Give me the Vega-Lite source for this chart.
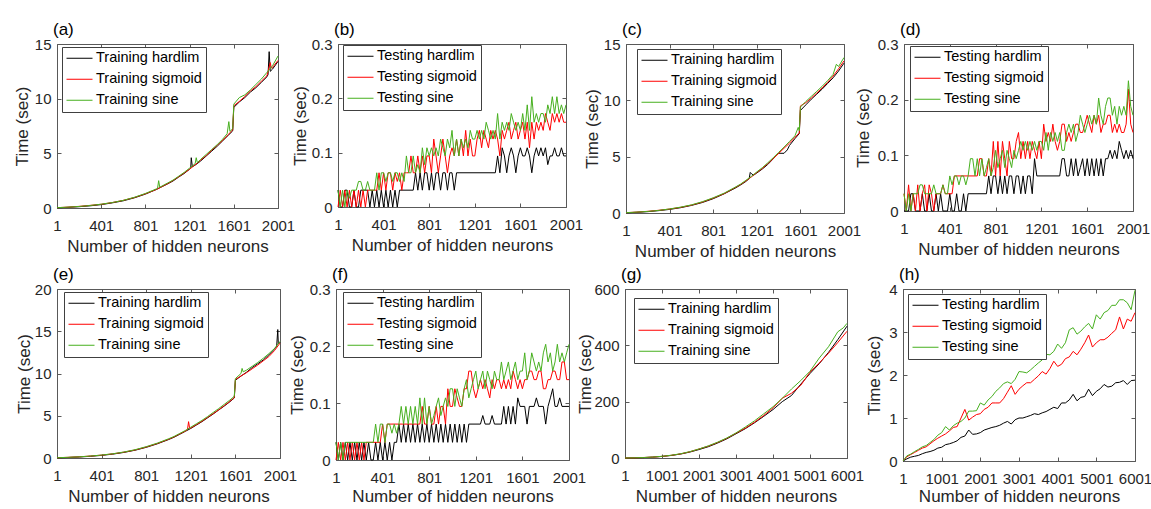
{
"$schema":"https://vega.github.io/schema/vega-lite/v6.json",
"background":"white",
"padding":{"left":12,"top":20,"right":0,"bottom":0},
"datasets":{
"ah":[{"x":1,"y":0.02},{"x":101,"y":0.06},{"x":201,"y":0.12},{"x":301,"y":0.2},{"x":401,"y":0.31},{"x":501,"y":0.47},{"x":601,"y":0.66},{"x":701,"y":0.93},{"x":801,"y":1.27},{"x":901,"y":1.7},{"x":1001,"y":2.2},{"x":1051,"y":2.47},{"x":1101,"y":2.82},{"x":1151,"y":3.15},{"x":1201,"y":3.55},{"x":1211,"y":3.65},{"x":1216,"y":4.6},{"x":1226,"y":3.78},{"x":1251,"y":3.92},{"x":1301,"y":4.3},{"x":1351,"y":4.75},{"x":1401,"y":5.2},{"x":1451,"y":5.65},{"x":1501,"y":6.15},{"x":1551,"y":6.65},{"x":1591,"y":7.05},{"x":1601,"y":9.2},{"x":1651,"y":9.7},{"x":1701,"y":10.1},{"x":1751,"y":10.6},{"x":1801,"y":11.0},{"x":1851,"y":11.5},{"x":1901,"y":12.0},{"x":1911,"y":12.2},{"x":1921,"y":14.3},{"x":1931,"y":12.5},{"x":1951,"y":12.7},{"x":2001,"y":13.4}],
"ag":[{"x":1,"y":0.03},{"x":101,"y":0.08},{"x":201,"y":0.15},{"x":301,"y":0.24},{"x":401,"y":0.34},{"x":501,"y":0.5},{"x":601,"y":0.7},{"x":701,"y":0.96},{"x":801,"y":1.3},{"x":901,"y":1.7},{"x":1001,"y":2.22},{"x":1051,"y":2.52},{"x":1101,"y":2.85},{"x":1151,"y":3.2},{"x":1201,"y":3.55},{"x":1251,"y":3.95},{"x":1301,"y":4.38},{"x":1351,"y":4.8},{"x":1401,"y":5.28},{"x":1451,"y":5.75},{"x":1501,"y":6.2},{"x":1551,"y":6.72},{"x":1591,"y":7.15},{"x":1601,"y":9.35},{"x":1651,"y":9.75},{"x":1701,"y":10.2},{"x":1751,"y":10.7},{"x":1801,"y":11.1},{"x":1851,"y":11.6},{"x":1901,"y":12.1},{"x":1931,"y":13.3},{"x":1941,"y":12.8},{"x":1951,"y":12.85},{"x":2001,"y":13.5}],
"an":[{"x":1,"y":0.03},{"x":101,"y":0.08},{"x":201,"y":0.14},{"x":301,"y":0.23},{"x":401,"y":0.35},{"x":501,"y":0.5},{"x":601,"y":0.7},{"x":701,"y":0.98},{"x":801,"y":1.33},{"x":901,"y":1.75},{"x":911,"y":1.8},{"x":921,"y":2.5},{"x":931,"y":1.9},{"x":1001,"y":2.28},{"x":1051,"y":2.55},{"x":1101,"y":2.9},{"x":1151,"y":3.25},{"x":1201,"y":3.65},{"x":1251,"y":4.05},{"x":1261,"y":4.6},{"x":1271,"y":4.15},{"x":1301,"y":4.45},{"x":1351,"y":4.9},{"x":1401,"y":5.35},{"x":1451,"y":5.8},{"x":1501,"y":6.3},{"x":1541,"y":6.8},{"x":1556,"y":7.9},{"x":1566,"y":7.0},{"x":1591,"y":7.25},{"x":1601,"y":9.5},{"x":1651,"y":10.1},{"x":1701,"y":10.35},{"x":1751,"y":10.8},{"x":1801,"y":11.3},{"x":1851,"y":11.8},{"x":1901,"y":12.4},{"x":1951,"y":13.0},{"x":2001,"y":13.9}],
"bh":[{"x":1,"y":0.031},{"x":21,"y":0},{"x":41,"y":0},{"x":61,"y":0.031},{"x":81,"y":0.031},{"x":101,"y":0},{"x":121,"y":0},{"x":141,"y":0.031},{"x":161,"y":0},{"x":181,"y":0},{"x":201,"y":0.031},{"x":261,"y":0.031},{"x":281,"y":0},{"x":301,"y":0.031},{"x":321,"y":0},{"x":341,"y":0.031},{"x":361,"y":0},{"x":381,"y":0.031},{"x":401,"y":0},{"x":421,"y":0.031},{"x":441,"y":0},{"x":461,"y":0.031},{"x":481,"y":0},{"x":501,"y":0.031},{"x":521,"y":0},{"x":541,"y":0.031},{"x":661,"y":0.031},{"x":681,"y":0.063},{"x":701,"y":0.031},{"x":721,"y":0.063},{"x":741,"y":0.031},{"x":761,"y":0.063},{"x":781,"y":0.063},{"x":801,"y":0.031},{"x":821,"y":0.063},{"x":841,"y":0.031},{"x":861,"y":0.063},{"x":881,"y":0.063},{"x":901,"y":0.031},{"x":921,"y":0.063},{"x":941,"y":0.063},{"x":961,"y":0.031},{"x":981,"y":0.063},{"x":1001,"y":0.063},{"x":1021,"y":0.031},{"x":1041,"y":0.063},{"x":1381,"y":0.063},{"x":1401,"y":0.094},{"x":1421,"y":0.063},{"x":1441,"y":0.109},{"x":1461,"y":0.094},{"x":1481,"y":0.063},{"x":1501,"y":0.094},{"x":1521,"y":0.109},{"x":1541,"y":0.094},{"x":1561,"y":0.063},{"x":1581,"y":0.094},{"x":1601,"y":0.109},{"x":1621,"y":0.094},{"x":1641,"y":0.094},{"x":1661,"y":0.109},{"x":1681,"y":0.094},{"x":1701,"y":0.063},{"x":1721,"y":0.094},{"x":1741,"y":0.109},{"x":1761,"y":0.094},{"x":1781,"y":0.109},{"x":1801,"y":0.094},{"x":1821,"y":0.109},{"x":1841,"y":0.078},{"x":1861,"y":0.094},{"x":1881,"y":0.094},{"x":1901,"y":0.109},{"x":1921,"y":0.094},{"x":1941,"y":0.094},{"x":1961,"y":0.109},{"x":1981,"y":0.094},{"x":2001,"y":0.094}],
"bg":[{"x":1,"y":0},{"x":21,"y":0.031},{"x":41,"y":0},{"x":61,"y":0.031},{"x":81,"y":0},{"x":101,"y":0.031},{"x":121,"y":0},{"x":141,"y":0.031},{"x":161,"y":0},{"x":181,"y":0.031},{"x":201,"y":0},{"x":221,"y":0.031},{"x":241,"y":0},{"x":261,"y":0.031},{"x":341,"y":0.031},{"x":361,"y":0.063},{"x":381,"y":0.031},{"x":401,"y":0.063},{"x":421,"y":0.031},{"x":441,"y":0.063},{"x":461,"y":0.063},{"x":481,"y":0.031},{"x":501,"y":0.063},{"x":521,"y":0.047},{"x":541,"y":0.063},{"x":561,"y":0.031},{"x":581,"y":0.063},{"x":601,"y":0.063},{"x":621,"y":0.063},{"x":641,"y":0.094},{"x":661,"y":0.063},{"x":681,"y":0.063},{"x":701,"y":0.094},{"x":721,"y":0.063},{"x":741,"y":0.094},{"x":761,"y":0.063},{"x":781,"y":0.094},{"x":801,"y":0.094},{"x":821,"y":0.063},{"x":841,"y":0.125},{"x":861,"y":0.094},{"x":881,"y":0.063},{"x":901,"y":0.094},{"x":921,"y":0.125},{"x":941,"y":0.094},{"x":961,"y":0.063},{"x":981,"y":0.094},{"x":1001,"y":0.109},{"x":1021,"y":0.094},{"x":1041,"y":0.125},{"x":1061,"y":0.094},{"x":1081,"y":0.125},{"x":1101,"y":0.094},{"x":1121,"y":0.141},{"x":1141,"y":0.094},{"x":1161,"y":0.125},{"x":1181,"y":0.094},{"x":1201,"y":0.094},{"x":1221,"y":0.125},{"x":1241,"y":0.141},{"x":1261,"y":0.109},{"x":1281,"y":0.141},{"x":1301,"y":0.125},{"x":1321,"y":0.109},{"x":1341,"y":0.141},{"x":1361,"y":0.125},{"x":1381,"y":0.141},{"x":1401,"y":0.125},{"x":1421,"y":0.094},{"x":1441,"y":0.141},{"x":1461,"y":0.125},{"x":1481,"y":0.141},{"x":1501,"y":0.156},{"x":1521,"y":0.125},{"x":1541,"y":0.141},{"x":1561,"y":0.156},{"x":1581,"y":0.125},{"x":1601,"y":0.141},{"x":1621,"y":0.156},{"x":1641,"y":0.125},{"x":1661,"y":0.156},{"x":1681,"y":0.109},{"x":1701,"y":0.156},{"x":1721,"y":0.125},{"x":1741,"y":0.156},{"x":1761,"y":0.141},{"x":1781,"y":0.156},{"x":1801,"y":0.141},{"x":1821,"y":0.172},{"x":1841,"y":0.156},{"x":1861,"y":0.141},{"x":1881,"y":0.172},{"x":1901,"y":0.156},{"x":1921,"y":0.172},{"x":1941,"y":0.156},{"x":1961,"y":0.172},{"x":1981,"y":0.156},{"x":2001,"y":0.156}],
"bn":[{"x":1,"y":0.031},{"x":21,"y":0},{"x":41,"y":0.031},{"x":61,"y":0},{"x":81,"y":0.031},{"x":101,"y":0.016},{"x":121,"y":0.031},{"x":161,"y":0.031},{"x":181,"y":0.047},{"x":201,"y":0.047},{"x":221,"y":0.031},{"x":241,"y":0.031},{"x":261,"y":0.047},{"x":281,"y":0.031},{"x":321,"y":0.031},{"x":341,"y":0.063},{"x":361,"y":0.031},{"x":381,"y":0.063},{"x":401,"y":0.063},{"x":421,"y":0.047},{"x":441,"y":0.063},{"x":461,"y":0.063},{"x":481,"y":0.047},{"x":501,"y":0.063},{"x":521,"y":0.063},{"x":541,"y":0.047},{"x":561,"y":0.063},{"x":581,"y":0.047},{"x":601,"y":0.094},{"x":621,"y":0.063},{"x":641,"y":0.063},{"x":661,"y":0.094},{"x":681,"y":0.063},{"x":701,"y":0.078},{"x":721,"y":0.063},{"x":741,"y":0.109},{"x":761,"y":0.078},{"x":781,"y":0.109},{"x":801,"y":0.094},{"x":821,"y":0.109},{"x":841,"y":0.094},{"x":861,"y":0.109},{"x":881,"y":0.094},{"x":901,"y":0.125},{"x":921,"y":0.109},{"x":941,"y":0.094},{"x":961,"y":0.125},{"x":981,"y":0.109},{"x":1001,"y":0.141},{"x":1021,"y":0.094},{"x":1041,"y":0.125},{"x":1061,"y":0.094},{"x":1081,"y":0.125},{"x":1101,"y":0.109},{"x":1121,"y":0.125},{"x":1141,"y":0.109},{"x":1161,"y":0.141},{"x":1181,"y":0.125},{"x":1201,"y":0.125},{"x":1221,"y":0.141},{"x":1241,"y":0.125},{"x":1261,"y":0.141},{"x":1281,"y":0.125},{"x":1301,"y":0.156},{"x":1321,"y":0.141},{"x":1341,"y":0.125},{"x":1361,"y":0.141},{"x":1381,"y":0.125},{"x":1401,"y":0.172},{"x":1421,"y":0.125},{"x":1441,"y":0.156},{"x":1461,"y":0.141},{"x":1481,"y":0.156},{"x":1501,"y":0.141},{"x":1521,"y":0.172},{"x":1541,"y":0.156},{"x":1561,"y":0.141},{"x":1581,"y":0.156},{"x":1601,"y":0.141},{"x":1621,"y":0.172},{"x":1641,"y":0.141},{"x":1661,"y":0.188},{"x":1681,"y":0.141},{"x":1701,"y":0.203},{"x":1721,"y":0.156},{"x":1741,"y":0.172},{"x":1761,"y":0.156},{"x":1781,"y":0.172},{"x":1801,"y":0.172},{"x":1821,"y":0.156},{"x":1841,"y":0.188},{"x":1861,"y":0.172},{"x":1881,"y":0.203},{"x":1901,"y":0.172},{"x":1921,"y":0.203},{"x":1941,"y":0.172},{"x":1961,"y":0.188},{"x":1981,"y":0.172},{"x":2001,"y":0.188}],
"ch":[{"x":1,"y":0.02},{"x":101,"y":0.06},{"x":201,"y":0.12},{"x":301,"y":0.21},{"x":401,"y":0.32},{"x":501,"y":0.47},{"x":601,"y":0.67},{"x":701,"y":0.93},{"x":801,"y":1.27},{"x":901,"y":1.7},{"x":1001,"y":2.2},{"x":1051,"y":2.48},{"x":1101,"y":2.8},{"x":1131,"y":3.05},{"x":1141,"y":3.6},{"x":1151,"y":3.5},{"x":1171,"y":3.35},{"x":1201,"y":3.55},{"x":1251,"y":3.9},{"x":1301,"y":4.3},{"x":1351,"y":4.8},{"x":1401,"y":5.3},{"x":1451,"y":5.3},{"x":1481,"y":5.6},{"x":1501,"y":6.0},{"x":1551,"y":6.6},{"x":1591,"y":7.05},{"x":1601,"y":9.1},{"x":1651,"y":9.6},{"x":1701,"y":10.1},{"x":1751,"y":10.55},{"x":1801,"y":11.0},{"x":1851,"y":11.5},{"x":1901,"y":12.0},{"x":1951,"y":12.6},{"x":2001,"y":13.3}],
"cg":[{"x":1,"y":0.03},{"x":101,"y":0.08},{"x":201,"y":0.15},{"x":301,"y":0.24},{"x":401,"y":0.35},{"x":501,"y":0.5},{"x":601,"y":0.7},{"x":701,"y":0.97},{"x":801,"y":1.32},{"x":901,"y":1.72},{"x":1001,"y":2.25},{"x":1051,"y":2.52},{"x":1101,"y":2.85},{"x":1151,"y":3.2},{"x":1201,"y":3.6},{"x":1251,"y":3.95},{"x":1301,"y":4.38},{"x":1351,"y":4.82},{"x":1401,"y":5.28},{"x":1451,"y":5.75},{"x":1501,"y":6.2},{"x":1551,"y":6.72},{"x":1591,"y":7.1},{"x":1601,"y":9.5},{"x":1651,"y":9.8},{"x":1701,"y":10.2},{"x":1751,"y":10.65},{"x":1801,"y":11.1},{"x":1851,"y":11.6},{"x":1901,"y":12.15},{"x":1951,"y":12.8},{"x":2001,"y":13.5}],
"cn":[{"x":1,"y":0.03},{"x":101,"y":0.08},{"x":201,"y":0.14},{"x":301,"y":0.23},{"x":401,"y":0.36},{"x":501,"y":0.52},{"x":601,"y":0.72},{"x":701,"y":1.0},{"x":801,"y":1.35},{"x":901,"y":1.76},{"x":1001,"y":2.28},{"x":1051,"y":2.56},{"x":1101,"y":2.9},{"x":1151,"y":3.25},{"x":1201,"y":3.65},{"x":1251,"y":4.02},{"x":1301,"y":4.45},{"x":1351,"y":4.9},{"x":1401,"y":5.38},{"x":1451,"y":5.85},{"x":1501,"y":6.35},{"x":1551,"y":6.85},{"x":1581,"y":7.6},{"x":1591,"y":7.3},{"x":1601,"y":9.4},{"x":1651,"y":9.9},{"x":1701,"y":10.35},{"x":1751,"y":10.8},{"x":1801,"y":11.25},{"x":1851,"y":11.75},{"x":1901,"y":12.3},{"x":1931,"y":13.2},{"x":1951,"y":13.0},{"x":2001,"y":13.8}],
"dh":[{"x":1,"y":0},{"x":41,"y":0},{"x":61,"y":0.031},{"x":81,"y":0.031},{"x":101,"y":0},{"x":141,"y":0},{"x":161,"y":0.031},{"x":181,"y":0},{"x":201,"y":0},{"x":221,"y":0.031},{"x":241,"y":0},{"x":261,"y":0},{"x":281,"y":0.031},{"x":301,"y":0},{"x":321,"y":0.031},{"x":341,"y":0},{"x":381,"y":0},{"x":401,"y":0.031},{"x":421,"y":0},{"x":441,"y":0},{"x":461,"y":0.031},{"x":481,"y":0},{"x":501,"y":0},{"x":521,"y":0.031},{"x":541,"y":0},{"x":561,"y":0.031},{"x":721,"y":0.031},{"x":741,"y":0.063},{"x":761,"y":0.031},{"x":781,"y":0.063},{"x":801,"y":0.063},{"x":821,"y":0.031},{"x":841,"y":0.063},{"x":861,"y":0.031},{"x":881,"y":0.063},{"x":901,"y":0.031},{"x":921,"y":0.063},{"x":941,"y":0.063},{"x":961,"y":0.031},{"x":981,"y":0.063},{"x":1001,"y":0.063},{"x":1021,"y":0.031},{"x":1041,"y":0.063},{"x":1061,"y":0.031},{"x":1081,"y":0.063},{"x":1101,"y":0.063},{"x":1121,"y":0.031},{"x":1141,"y":0.094},{"x":1161,"y":0.063},{"x":1361,"y":0.063},{"x":1381,"y":0.094},{"x":1401,"y":0.094},{"x":1421,"y":0.063},{"x":1441,"y":0.063},{"x":1461,"y":0.094},{"x":1481,"y":0.063},{"x":1501,"y":0.094},{"x":1521,"y":0.063},{"x":1541,"y":0.078},{"x":1561,"y":0.094},{"x":1581,"y":0.063},{"x":1601,"y":0.094},{"x":1621,"y":0.063},{"x":1641,"y":0.094},{"x":1661,"y":0.063},{"x":1681,"y":0.094},{"x":1701,"y":0.063},{"x":1721,"y":0.094},{"x":1741,"y":0.063},{"x":1761,"y":0.094},{"x":1781,"y":0.094},{"x":1801,"y":0.109},{"x":1821,"y":0.094},{"x":1841,"y":0.109},{"x":1861,"y":0.094},{"x":1881,"y":0.125},{"x":1901,"y":0.109},{"x":1921,"y":0.094},{"x":1941,"y":0.109},{"x":1961,"y":0.094},{"x":1981,"y":0.109},{"x":2001,"y":0.094}],
"dg":[{"x":1,"y":0.031},{"x":21,"y":0},{"x":41,"y":0.047},{"x":61,"y":0},{"x":81,"y":0.031},{"x":101,"y":0},{"x":121,"y":0.047},{"x":141,"y":0},{"x":161,"y":0.031},{"x":181,"y":0.047},{"x":201,"y":0},{"x":221,"y":0.047},{"x":241,"y":0.031},{"x":261,"y":0},{"x":281,"y":0.031},{"x":321,"y":0.031},{"x":341,"y":0.047},{"x":361,"y":0.031},{"x":421,"y":0.031},{"x":441,"y":0.063},{"x":641,"y":0.063},{"x":661,"y":0.094},{"x":681,"y":0.094},{"x":701,"y":0.063},{"x":721,"y":0.063},{"x":741,"y":0.094},{"x":761,"y":0.063},{"x":781,"y":0.125},{"x":801,"y":0.063},{"x":821,"y":0.125},{"x":841,"y":0.063},{"x":861,"y":0.125},{"x":881,"y":0.094},{"x":901,"y":0.063},{"x":921,"y":0.125},{"x":941,"y":0.094},{"x":961,"y":0.094},{"x":981,"y":0.125},{"x":1001,"y":0.141},{"x":1021,"y":0.094},{"x":1041,"y":0.125},{"x":1061,"y":0.094},{"x":1081,"y":0.125},{"x":1101,"y":0.094},{"x":1121,"y":0.125},{"x":1141,"y":0.109},{"x":1161,"y":0.094},{"x":1181,"y":0.125},{"x":1201,"y":0.094},{"x":1221,"y":0.156},{"x":1241,"y":0.125},{"x":1261,"y":0.141},{"x":1281,"y":0.125},{"x":1301,"y":0.156},{"x":1321,"y":0.125},{"x":1341,"y":0.109},{"x":1361,"y":0.125},{"x":1381,"y":0.156},{"x":1401,"y":0.156},{"x":1421,"y":0.125},{"x":1441,"y":0.141},{"x":1461,"y":0.125},{"x":1481,"y":0.141},{"x":1501,"y":0.156},{"x":1521,"y":0.156},{"x":1541,"y":0.141},{"x":1561,"y":0.141},{"x":1581,"y":0.156},{"x":1601,"y":0.172},{"x":1621,"y":0.156},{"x":1641,"y":0.141},{"x":1661,"y":0.172},{"x":1681,"y":0.156},{"x":1701,"y":0.172},{"x":1721,"y":0.141},{"x":1741,"y":0.156},{"x":1761,"y":0.156},{"x":1781,"y":0.172},{"x":1801,"y":0.172},{"x":1821,"y":0.141},{"x":1841,"y":0.156},{"x":1861,"y":0.141},{"x":1881,"y":0.156},{"x":1901,"y":0.141},{"x":1921,"y":0.141},{"x":1941,"y":0.156},{"x":1961,"y":0.219},{"x":1981,"y":0.156},{"x":2001,"y":0.141}],
"dn":[{"x":1,"y":0.031},{"x":21,"y":0},{"x":41,"y":0.031},{"x":61,"y":0},{"x":81,"y":0.031},{"x":121,"y":0.031},{"x":141,"y":0.047},{"x":161,"y":0.047},{"x":181,"y":0.031},{"x":241,"y":0.031},{"x":261,"y":0.047},{"x":281,"y":0.031},{"x":321,"y":0.031},{"x":341,"y":0.047},{"x":361,"y":0.031},{"x":381,"y":0.031},{"x":401,"y":0.063},{"x":421,"y":0.047},{"x":441,"y":0.063},{"x":461,"y":0.063},{"x":481,"y":0.047},{"x":501,"y":0.063},{"x":521,"y":0.063},{"x":541,"y":0.047},{"x":561,"y":0.063},{"x":581,"y":0.094},{"x":601,"y":0.094},{"x":621,"y":0.063},{"x":641,"y":0.094},{"x":661,"y":0.063},{"x":681,"y":0.094},{"x":701,"y":0.063},{"x":721,"y":0.078},{"x":741,"y":0.094},{"x":761,"y":0.063},{"x":781,"y":0.078},{"x":801,"y":0.109},{"x":821,"y":0.078},{"x":841,"y":0.094},{"x":861,"y":0.109},{"x":881,"y":0.078},{"x":901,"y":0.109},{"x":921,"y":0.094},{"x":941,"y":0.078},{"x":961,"y":0.109},{"x":981,"y":0.094},{"x":1001,"y":0.109},{"x":1021,"y":0.125},{"x":1041,"y":0.109},{"x":1061,"y":0.125},{"x":1081,"y":0.109},{"x":1101,"y":0.125},{"x":1121,"y":0.109},{"x":1141,"y":0.125},{"x":1161,"y":0.109},{"x":1181,"y":0.125},{"x":1201,"y":0.125},{"x":1221,"y":0.109},{"x":1241,"y":0.141},{"x":1261,"y":0.109},{"x":1281,"y":0.141},{"x":1301,"y":0.125},{"x":1321,"y":0.141},{"x":1341,"y":0.125},{"x":1361,"y":0.141},{"x":1381,"y":0.109},{"x":1401,"y":0.109},{"x":1421,"y":0.141},{"x":1441,"y":0.156},{"x":1461,"y":0.141},{"x":1481,"y":0.156},{"x":1501,"y":0.125},{"x":1521,"y":0.141},{"x":1541,"y":0.172},{"x":1561,"y":0.156},{"x":1581,"y":0.141},{"x":1601,"y":0.156},{"x":1621,"y":0.172},{"x":1641,"y":0.156},{"x":1661,"y":0.172},{"x":1681,"y":0.156},{"x":1701,"y":0.203},{"x":1721,"y":0.172},{"x":1741,"y":0.156},{"x":1761,"y":0.188},{"x":1781,"y":0.203},{"x":1801,"y":0.203},{"x":1821,"y":0.172},{"x":1841,"y":0.188},{"x":1861,"y":0.156},{"x":1881,"y":0.188},{"x":1901,"y":0.172},{"x":1921,"y":0.188},{"x":1941,"y":0.172},{"x":1961,"y":0.234},{"x":1981,"y":0.188},{"x":2001,"y":0.172}],
"eh":[{"x":1,"y":0.02},{"x":101,"y":0.06},{"x":201,"y":0.12},{"x":301,"y":0.2},{"x":401,"y":0.31},{"x":501,"y":0.46},{"x":601,"y":0.66},{"x":701,"y":0.92},{"x":801,"y":1.26},{"x":901,"y":1.68},{"x":1001,"y":2.18},{"x":1051,"y":2.46},{"x":1101,"y":2.8},{"x":1151,"y":3.15},{"x":1201,"y":3.5},{"x":1251,"y":3.9},{"x":1301,"y":4.3},{"x":1351,"y":4.75},{"x":1401,"y":5.2},{"x":1451,"y":5.68},{"x":1501,"y":6.15},{"x":1551,"y":6.65},{"x":1591,"y":7.1},{"x":1601,"y":9.2},{"x":1651,"y":9.7},{"x":1701,"y":10.15},{"x":1751,"y":10.7},{"x":1801,"y":11.15},{"x":1851,"y":11.6},{"x":1901,"y":12.2},{"x":1951,"y":12.9},{"x":1971,"y":13.2},{"x":1981,"y":15.2},{"x":1986,"y":13.5},{"x":2001,"y":13.7}],
"eg":[{"x":1,"y":0.03},{"x":101,"y":0.08},{"x":201,"y":0.14},{"x":301,"y":0.23},{"x":401,"y":0.34},{"x":501,"y":0.49},{"x":601,"y":0.69},{"x":701,"y":0.95},{"x":801,"y":1.3},{"x":901,"y":1.72},{"x":1001,"y":2.22},{"x":1051,"y":2.5},{"x":1101,"y":2.85},{"x":1151,"y":3.18},{"x":1171,"y":3.35},{"x":1181,"y":4.3},{"x":1191,"y":3.5},{"x":1201,"y":3.55},{"x":1251,"y":3.95},{"x":1301,"y":4.35},{"x":1351,"y":4.8},{"x":1401,"y":5.25},{"x":1451,"y":5.7},{"x":1501,"y":6.2},{"x":1551,"y":6.7},{"x":1591,"y":7.15},{"x":1601,"y":9.3},{"x":1651,"y":9.7},{"x":1701,"y":10.1},{"x":1751,"y":10.55},{"x":1801,"y":11.0},{"x":1851,"y":11.5},{"x":1901,"y":12.0},{"x":1951,"y":12.7},{"x":2001,"y":13.6}],
"en":[{"x":1,"y":0.03},{"x":101,"y":0.08},{"x":201,"y":0.14},{"x":301,"y":0.23},{"x":401,"y":0.35},{"x":501,"y":0.5},{"x":601,"y":0.71},{"x":701,"y":0.98},{"x":801,"y":1.34},{"x":901,"y":1.76},{"x":1001,"y":2.27},{"x":1051,"y":2.55},{"x":1101,"y":2.9},{"x":1151,"y":3.25},{"x":1201,"y":3.65},{"x":1251,"y":4.05},{"x":1301,"y":4.45},{"x":1351,"y":4.9},{"x":1401,"y":5.38},{"x":1451,"y":5.85},{"x":1501,"y":6.35},{"x":1551,"y":6.85},{"x":1591,"y":7.3},{"x":1601,"y":9.4},{"x":1651,"y":10.0},{"x":1661,"y":10.6},{"x":1671,"y":10.2},{"x":1701,"y":10.4},{"x":1751,"y":10.85},{"x":1801,"y":11.3},{"x":1851,"y":11.8},{"x":1901,"y":12.35},{"x":1951,"y":12.95},{"x":2001,"y":13.8}],
"fh":[{"x":1,"y":0.031},{"x":21,"y":0},{"x":41,"y":0.031},{"x":61,"y":0},{"x":81,"y":0.031},{"x":101,"y":0},{"x":121,"y":0.031},{"x":141,"y":0},{"x":161,"y":0.031},{"x":181,"y":0},{"x":201,"y":0.031},{"x":221,"y":0},{"x":241,"y":0.031},{"x":261,"y":0},{"x":281,"y":0.031},{"x":301,"y":0},{"x":321,"y":0},{"x":341,"y":0.031},{"x":361,"y":0},{"x":381,"y":0.031},{"x":401,"y":0},{"x":421,"y":0.031},{"x":441,"y":0},{"x":461,"y":0.031},{"x":481,"y":0},{"x":501,"y":0.031},{"x":521,"y":0.031},{"x":541,"y":0.063},{"x":561,"y":0.031},{"x":581,"y":0.063},{"x":601,"y":0.031},{"x":621,"y":0.063},{"x":641,"y":0.031},{"x":661,"y":0.063},{"x":681,"y":0.031},{"x":701,"y":0.063},{"x":721,"y":0.031},{"x":741,"y":0.063},{"x":761,"y":0.031},{"x":781,"y":0.063},{"x":801,"y":0.031},{"x":821,"y":0.063},{"x":841,"y":0.031},{"x":861,"y":0.063},{"x":881,"y":0.031},{"x":901,"y":0.063},{"x":921,"y":0.031},{"x":941,"y":0.063},{"x":961,"y":0.031},{"x":981,"y":0.063},{"x":1001,"y":0.031},{"x":1021,"y":0.063},{"x":1041,"y":0.031},{"x":1061,"y":0.063},{"x":1081,"y":0.031},{"x":1101,"y":0.063},{"x":1121,"y":0.031},{"x":1141,"y":0.063},{"x":1241,"y":0.063},{"x":1261,"y":0.078},{"x":1281,"y":0.063},{"x":1321,"y":0.063},{"x":1341,"y":0.078},{"x":1361,"y":0.063},{"x":1421,"y":0.063},{"x":1441,"y":0.094},{"x":1461,"y":0.063},{"x":1481,"y":0.094},{"x":1501,"y":0.063},{"x":1521,"y":0.094},{"x":1541,"y":0.063},{"x":1561,"y":0.109},{"x":1581,"y":0.094},{"x":1621,"y":0.094},{"x":1641,"y":0.063},{"x":1661,"y":0.094},{"x":1701,"y":0.094},{"x":1721,"y":0.109},{"x":1741,"y":0.094},{"x":1781,"y":0.094},{"x":1801,"y":0.063},{"x":1821,"y":0.094},{"x":1841,"y":0.109},{"x":1861,"y":0.125},{"x":1881,"y":0.094},{"x":1901,"y":0.094},{"x":1921,"y":0.109},{"x":1941,"y":0.094},{"x":2001,"y":0.094}],
"fg":[{"x":1,"y":0},{"x":21,"y":0.031},{"x":41,"y":0},{"x":61,"y":0.031},{"x":81,"y":0},{"x":101,"y":0.031},{"x":121,"y":0},{"x":141,"y":0.031},{"x":161,"y":0},{"x":181,"y":0.031},{"x":201,"y":0},{"x":221,"y":0.031},{"x":241,"y":0},{"x":261,"y":0.031},{"x":381,"y":0.031},{"x":401,"y":0.063},{"x":421,"y":0.031},{"x":441,"y":0.063},{"x":721,"y":0.063},{"x":741,"y":0.094},{"x":761,"y":0.063},{"x":781,"y":0.063},{"x":801,"y":0.094},{"x":821,"y":0.063},{"x":841,"y":0.063},{"x":861,"y":0.094},{"x":881,"y":0.063},{"x":901,"y":0.094},{"x":921,"y":0.094},{"x":941,"y":0.063},{"x":961,"y":0.125},{"x":981,"y":0.094},{"x":1001,"y":0.094},{"x":1021,"y":0.125},{"x":1041,"y":0.109},{"x":1061,"y":0.094},{"x":1081,"y":0.094},{"x":1101,"y":0.125},{"x":1121,"y":0.125},{"x":1141,"y":0.156},{"x":1161,"y":0.156},{"x":1181,"y":0.125},{"x":1201,"y":0.109},{"x":1221,"y":0.125},{"x":1241,"y":0.141},{"x":1261,"y":0.125},{"x":1281,"y":0.141},{"x":1301,"y":0.125},{"x":1321,"y":0.109},{"x":1341,"y":0.141},{"x":1361,"y":0.125},{"x":1381,"y":0.141},{"x":1401,"y":0.141},{"x":1421,"y":0.125},{"x":1441,"y":0.141},{"x":1461,"y":0.125},{"x":1481,"y":0.141},{"x":1501,"y":0.125},{"x":1521,"y":0.156},{"x":1541,"y":0.141},{"x":1561,"y":0.125},{"x":1581,"y":0.141},{"x":1601,"y":0.125},{"x":1621,"y":0.141},{"x":1641,"y":0.141},{"x":1661,"y":0.156},{"x":1681,"y":0.156},{"x":1701,"y":0.141},{"x":1721,"y":0.141},{"x":1741,"y":0.156},{"x":1761,"y":0.156},{"x":1781,"y":0.125},{"x":1801,"y":0.125},{"x":1821,"y":0.141},{"x":1841,"y":0.141},{"x":1861,"y":0.156},{"x":1881,"y":0.156},{"x":1901,"y":0.141},{"x":1921,"y":0.141},{"x":1941,"y":0.172},{"x":1961,"y":0.172},{"x":1981,"y":0.141},{"x":2001,"y":0.141}],
"fn":[{"x":1,"y":0.031},{"x":21,"y":0},{"x":41,"y":0.031},{"x":61,"y":0},{"x":81,"y":0.031},{"x":321,"y":0.031},{"x":341,"y":0.063},{"x":361,"y":0.031},{"x":381,"y":0.063},{"x":401,"y":0.063},{"x":421,"y":0.031},{"x":441,"y":0.063},{"x":461,"y":0.063},{"x":481,"y":0.047},{"x":501,"y":0.063},{"x":521,"y":0.047},{"x":541,"y":0.063},{"x":561,"y":0.094},{"x":581,"y":0.063},{"x":601,"y":0.094},{"x":621,"y":0.063},{"x":641,"y":0.094},{"x":661,"y":0.063},{"x":681,"y":0.094},{"x":701,"y":0.063},{"x":721,"y":0.109},{"x":741,"y":0.063},{"x":761,"y":0.109},{"x":781,"y":0.063},{"x":801,"y":0.094},{"x":821,"y":0.063},{"x":841,"y":0.078},{"x":861,"y":0.094},{"x":881,"y":0.109},{"x":901,"y":0.078},{"x":921,"y":0.094},{"x":941,"y":0.109},{"x":961,"y":0.094},{"x":981,"y":0.125},{"x":1001,"y":0.125},{"x":1021,"y":0.094},{"x":1041,"y":0.125},{"x":1061,"y":0.109},{"x":1081,"y":0.094},{"x":1101,"y":0.125},{"x":1121,"y":0.141},{"x":1141,"y":0.109},{"x":1161,"y":0.125},{"x":1181,"y":0.141},{"x":1201,"y":0.156},{"x":1221,"y":0.125},{"x":1241,"y":0.141},{"x":1261,"y":0.156},{"x":1281,"y":0.125},{"x":1301,"y":0.156},{"x":1321,"y":0.141},{"x":1341,"y":0.125},{"x":1361,"y":0.156},{"x":1381,"y":0.141},{"x":1401,"y":0.141},{"x":1421,"y":0.172},{"x":1441,"y":0.141},{"x":1461,"y":0.156},{"x":1481,"y":0.172},{"x":1501,"y":0.141},{"x":1521,"y":0.156},{"x":1541,"y":0.172},{"x":1561,"y":0.141},{"x":1581,"y":0.156},{"x":1601,"y":0.156},{"x":1621,"y":0.188},{"x":1641,"y":0.141},{"x":1661,"y":0.156},{"x":1681,"y":0.188},{"x":1701,"y":0.172},{"x":1721,"y":0.156},{"x":1741,"y":0.172},{"x":1761,"y":0.156},{"x":1781,"y":0.188},{"x":1801,"y":0.203},{"x":1821,"y":0.172},{"x":1841,"y":0.188},{"x":1861,"y":0.156},{"x":1881,"y":0.172},{"x":1901,"y":0.203},{"x":1921,"y":0.172},{"x":1941,"y":0.188},{"x":1961,"y":0.172},{"x":1981,"y":0.188},{"x":2001,"y":0.203}],
"gh":[{"x":1,"y":0},{"x":251,"y":0.5},{"x":501,"y":1.5},{"x":751,"y":3},{"x":1001,"y":5.5},{"x":1251,"y":9},{"x":1501,"y":14},{"x":1751,"y":21},{"x":2001,"y":30},{"x":2251,"y":40},{"x":2501,"y":53},{"x":2751,"y":68},{"x":3001,"y":86},{"x":3251,"y":104},{"x":3501,"y":125},{"x":3751,"y":148},{"x":4001,"y":172},{"x":4251,"y":200},{"x":4501,"y":222},{"x":4751,"y":262},{"x":5001,"y":300},{"x":5251,"y":335},{"x":5501,"y":375},{"x":5751,"y":420},{"x":6001,"y":468}],
"gg":[{"x":1,"y":0},{"x":251,"y":0.6},{"x":501,"y":1.7},{"x":751,"y":3.2},{"x":1001,"y":5.8},{"x":1251,"y":9.5},{"x":1501,"y":14.5},{"x":1751,"y":22},{"x":2001,"y":32},{"x":2251,"y":42},{"x":2501,"y":55},{"x":2751,"y":70},{"x":3001,"y":88},{"x":3251,"y":106},{"x":3501,"y":127},{"x":3751,"y":151},{"x":4001,"y":178},{"x":4251,"y":212},{"x":4501,"y":230},{"x":4751,"y":258},{"x":5001,"y":305},{"x":5251,"y":337},{"x":5501,"y":372},{"x":5751,"y":410},{"x":6001,"y":450}],
"gn":[{"x":1,"y":0},{"x":251,"y":0.6},{"x":501,"y":1.7},{"x":751,"y":3.3},{"x":1001,"y":6},{"x":1251,"y":9.8},{"x":1501,"y":15},{"x":1751,"y":22.5},{"x":2001,"y":32},{"x":2251,"y":43},{"x":2501,"y":56},{"x":2751,"y":71},{"x":3001,"y":89},{"x":3251,"y":110},{"x":3501,"y":132},{"x":3751,"y":157},{"x":4001,"y":182},{"x":4251,"y":212},{"x":4501,"y":245},{"x":4751,"y":275},{"x":5001,"y":308},{"x":5251,"y":355},{"x":5501,"y":395},{"x":5751,"y":448},{"x":5901,"y":462},{"x":6001,"y":478}],
"hh":[{"x":1,"y":0},{"x":101,"y":0.05},{"x":201,"y":0.09},{"x":301,"y":0.11},{"x":401,"y":0.13},{"x":501,"y":0.17},{"x":601,"y":0.2},{"x":701,"y":0.22},{"x":801,"y":0.25},{"x":901,"y":0.3},{"x":1001,"y":0.32},{"x":1101,"y":0.38},{"x":1201,"y":0.4},{"x":1301,"y":0.43},{"x":1401,"y":0.47},{"x":1501,"y":0.55},{"x":1601,"y":0.58},{"x":1701,"y":0.72},{"x":1801,"y":0.62},{"x":1901,"y":0.63},{"x":2001,"y":0.66},{"x":2101,"y":0.72},{"x":2201,"y":0.75},{"x":2301,"y":0.78},{"x":2401,"y":0.8},{"x":2501,"y":0.83},{"x":2601,"y":0.88},{"x":2701,"y":0.92},{"x":2801,"y":0.86},{"x":2901,"y":0.96},{"x":3001,"y":1.0},{"x":3101,"y":1.0},{"x":3201,"y":1.03},{"x":3301,"y":1.06},{"x":3401,"y":1.1},{"x":3501,"y":1.08},{"x":3601,"y":1.12},{"x":3701,"y":1.15},{"x":3801,"y":1.2},{"x":3901,"y":1.25},{"x":4001,"y":1.22},{"x":4101,"y":1.35},{"x":4201,"y":1.35},{"x":4301,"y":1.42},{"x":4401,"y":1.55},{"x":4501,"y":1.4},{"x":4601,"y":1.48},{"x":4701,"y":1.5},{"x":4801,"y":1.67},{"x":4901,"y":1.52},{"x":5001,"y":1.62},{"x":5101,"y":1.68},{"x":5201,"y":1.78},{"x":5301,"y":1.72},{"x":5401,"y":1.74},{"x":5501,"y":1.82},{"x":5601,"y":1.83},{"x":5701,"y":1.87},{"x":5801,"y":1.78},{"x":5901,"y":1.87},{"x":6001,"y":1.88}],
"hg":[{"x":1,"y":0},{"x":101,"y":0.1},{"x":201,"y":0.15},{"x":301,"y":0.2},{"x":401,"y":0.25},{"x":501,"y":0.3},{"x":601,"y":0.33},{"x":701,"y":0.4},{"x":801,"y":0.47},{"x":901,"y":0.53},{"x":1001,"y":0.58},{"x":1101,"y":0.63},{"x":1201,"y":0.7},{"x":1301,"y":0.78},{"x":1401,"y":0.8},{"x":1501,"y":1.0},{"x":1601,"y":1.2},{"x":1701,"y":0.95},{"x":1801,"y":1.02},{"x":1901,"y":1.08},{"x":2001,"y":1.1},{"x":2101,"y":1.2},{"x":2201,"y":1.25},{"x":2301,"y":1.35},{"x":2401,"y":1.35},{"x":2501,"y":1.35},{"x":2601,"y":1.45},{"x":2701,"y":1.6},{"x":2801,"y":1.75},{"x":2901,"y":1.55},{"x":3001,"y":1.67},{"x":3101,"y":1.75},{"x":3201,"y":1.82},{"x":3301,"y":1.82},{"x":3401,"y":1.9},{"x":3501,"y":1.98},{"x":3601,"y":2.08},{"x":3701,"y":2.02},{"x":3801,"y":2.15},{"x":3901,"y":2.32},{"x":4001,"y":2.2},{"x":4101,"y":2.25},{"x":4201,"y":2.38},{"x":4301,"y":2.42},{"x":4401,"y":2.55},{"x":4501,"y":2.47},{"x":4601,"y":2.6},{"x":4701,"y":2.75},{"x":4801,"y":2.93},{"x":4901,"y":2.65},{"x":5001,"y":2.75},{"x":5101,"y":2.82},{"x":5201,"y":2.82},{"x":5301,"y":2.88},{"x":5401,"y":2.97},{"x":5501,"y":3.05},{"x":5601,"y":3.35},{"x":5701,"y":3.07},{"x":5801,"y":3.3},{"x":5901,"y":3.25},{"x":6001,"y":3.45}],
"hn":[{"x":1,"y":0},{"x":101,"y":0.12},{"x":201,"y":0.16},{"x":301,"y":0.22},{"x":401,"y":0.27},{"x":501,"y":0.33},{"x":601,"y":0.36},{"x":701,"y":0.43},{"x":801,"y":0.5},{"x":901,"y":0.6},{"x":1001,"y":0.66},{"x":1101,"y":0.8},{"x":1201,"y":0.72},{"x":1301,"y":0.82},{"x":1401,"y":0.88},{"x":1501,"y":0.92},{"x":1601,"y":1.0},{"x":1701,"y":1.16},{"x":1801,"y":1.16},{"x":1901,"y":1.17},{"x":2001,"y":1.35},{"x":2101,"y":1.3},{"x":2201,"y":1.42},{"x":2301,"y":1.5},{"x":2401,"y":1.62},{"x":2501,"y":1.7},{"x":2601,"y":1.8},{"x":2701,"y":1.84},{"x":2801,"y":1.8},{"x":2901,"y":1.9},{"x":3001,"y":2.08},{"x":3101,"y":2.07},{"x":3201,"y":2.05},{"x":3301,"y":2.12},{"x":3401,"y":2.2},{"x":3501,"y":2.28},{"x":3601,"y":2.35},{"x":3701,"y":2.48},{"x":3801,"y":2.47},{"x":3901,"y":2.55},{"x":4001,"y":2.72},{"x":4101,"y":2.62},{"x":4201,"y":2.75},{"x":4301,"y":3.05},{"x":4401,"y":3.1},{"x":4501,"y":2.95},{"x":4601,"y":3.02},{"x":4701,"y":3.12},{"x":4801,"y":3.2},{"x":4901,"y":3.07},{"x":5001,"y":3.4},{"x":5101,"y":3.3},{"x":5201,"y":3.45},{"x":5301,"y":3.5},{"x":5401,"y":3.62},{"x":5501,"y":3.62},{"x":5601,"y":3.75},{"x":5701,"y":3.75},{"x":5801,"y":3.68},{"x":5901,"y":3.52},{"x":6001,"y":3.97}]
},
"vconcat":[
{"hconcat":[
{"width":221,"height":164,"title":"(a)","layer":[
 {"encoding":{"x":{"field":"x","type":"quantitative","scale":{"domain":[1,2001],"nice":false,"zero":false},"axis":{"values":[1,401,801,1201,1601,2001],"format":"d","title":"Number of hidden neurons","titleY":30,"labelPadding":14}},
  "y":{"field":"y","type":"quantitative","scale":{"domain":[0,15],"nice":false},"axis":{"values":[0,5,10,15],"format":"~r","title":"Time (sec)","titleX":-26,"labelPadding":10}}},
  "layer":[
  {"data":{"name":"ah"},"mark":"line","encoding":{"color":{"datum":"hardlim","scale":{"domain":["hardlim","sigmoid","sine"],"range":["#000000","#ff0000","#47b01f"]},"legend":{"title":null,"orient":"none","legendX":5,"legendY":3,"labelExpr":"'Training ' + datum.label"}}}},
  {"data":{"name":"ag"},"mark":"line","encoding":{"color":{"datum":"sigmoid"}}},
  {"data":{"name":"an"},"mark":"line","encoding":{"color":{"datum":"sine"}}}]},
 {"data":{"name":"ah"},"mark":{"type":"line","opacity":0},"encoding":{"x":{"field":"x","type":"quantitative","scale":{"domain":[1,2001],"nice":false,"zero":false},"axis":{"orient":"top","values":[1,401,801,1201,1601,2001],"labels":false,"title":null}},"y":{"field":"y","type":"quantitative","scale":{"domain":[0,15],"nice":false},"axis":{"orient":"right","values":[0,5,10,15],"labels":false,"title":null}}}}
],"resolve":{"axis":{"x":"independent","y":"independent"}}},
{"width":228,"height":163,"title":"(b)","layer":[
 {"encoding":{"x":{"field":"x","type":"quantitative","scale":{"domain":[1,2001],"nice":false,"zero":false},"axis":{"values":[1,401,801,1201,1601,2001],"format":"d","title":"Number of hidden neurons","titleY":30,"labelPadding":14}},
  "y":{"field":"y","type":"quantitative","scale":{"domain":[0,0.3],"nice":false},"axis":{"values":[0,0.1,0.2,0.3],"format":"~r","title":"Time (sec)","titleX":-29,"labelPadding":10}}},
  "layer":[
  {"data":{"name":"bh"},"mark":"line","encoding":{"color":{"datum":"hardlim","scale":{"domain":["hardlim","sigmoid","sine"],"range":["#000000","#ff0000","#47b01f"]},"legend":{"title":null,"orient":"none","legendX":5,"legendY":1,"labelExpr":"'Testing ' + datum.label"}}}},
  {"data":{"name":"bg"},"mark":"line","encoding":{"color":{"datum":"sigmoid"}}},
  {"data":{"name":"bn"},"mark":"line","encoding":{"color":{"datum":"sine"}}}]},
 {"data":{"name":"bh"},"mark":{"type":"line","opacity":0},"encoding":{"x":{"field":"x","type":"quantitative","scale":{"domain":[1,2001],"nice":false,"zero":false},"axis":{"orient":"top","values":[1,401,801,1201,1601,2001],"labels":false,"title":null}},"y":{"field":"y","type":"quantitative","scale":{"domain":[0,0.3],"nice":false},"axis":{"orient":"right","values":[0,0.1,0.2,0.3],"labels":false,"title":null}}}}
],"resolve":{"axis":{"x":"independent","y":"independent"}}},
{"width":218,"height":169,"title":"(c)","layer":[
 {"encoding":{"x":{"field":"x","type":"quantitative","scale":{"domain":[1,2001],"nice":false,"zero":false},"axis":{"values":[1,401,801,1201,1601,2001],"format":"d","title":"Number of hidden neurons","titleY":30,"labelPadding":14}},
  "y":{"field":"y","type":"quantitative","scale":{"domain":[0,15],"nice":false},"axis":{"values":[0,5,10,15],"format":"~r","title":"Time (sec)","titleX":-25,"labelPadding":10}}},
  "layer":[
  {"data":{"name":"ch"},"mark":"line","encoding":{"color":{"datum":"hardlim","scale":{"domain":["hardlim","sigmoid","sine"],"range":["#000000","#ff0000","#47b01f"]},"legend":{"title":null,"orient":"none","legendX":11,"legendY":5,"labelExpr":"'Training ' + datum.label"}}}},
  {"data":{"name":"cg"},"mark":"line","encoding":{"color":{"datum":"sigmoid"}}},
  {"data":{"name":"cn"},"mark":"line","encoding":{"color":{"datum":"sine"}}}]},
 {"data":{"name":"ch"},"mark":{"type":"line","opacity":0},"encoding":{"x":{"field":"x","type":"quantitative","scale":{"domain":[1,2001],"nice":false,"zero":false},"axis":{"orient":"top","values":[1,401,801,1201,1601,2001],"labels":false,"title":null}},"y":{"field":"y","type":"quantitative","scale":{"domain":[0,15],"nice":false},"axis":{"orient":"right","values":[0,5,10,15],"labels":false,"title":null}}}}
],"resolve":{"axis":{"x":"independent","y":"independent"}}},
{"width":229,"height":167,"title":"(d)","layer":[
 {"encoding":{"x":{"field":"x","type":"quantitative","scale":{"domain":[1,2001],"nice":false,"zero":false},"axis":{"values":[1,401,801,1201,1601,2001],"format":"d","title":"Number of hidden neurons","titleY":30,"labelPadding":14}},
  "y":{"field":"y","type":"quantitative","scale":{"domain":[0,0.3],"nice":false},"axis":{"values":[0,0.1,0.2,0.3],"format":"~r","title":"Time (sec)","titleX":-32,"labelPadding":10}}},
  "layer":[
  {"data":{"name":"dh"},"mark":"line","encoding":{"color":{"datum":"hardlim","scale":{"domain":["hardlim","sigmoid","sine"],"range":["#000000","#ff0000","#47b01f"]},"legend":{"title":null,"orient":"none","legendX":6,"legendY":2,"labelExpr":"'Testing ' + datum.label"}}}},
  {"data":{"name":"dg"},"mark":"line","encoding":{"color":{"datum":"sigmoid"}}},
  {"data":{"name":"dn"},"mark":"line","encoding":{"color":{"datum":"sine"}}}]},
 {"data":{"name":"dh"},"mark":{"type":"line","opacity":0},"encoding":{"x":{"field":"x","type":"quantitative","scale":{"domain":[1,2001],"nice":false,"zero":false},"axis":{"orient":"top","values":[1,401,801,1201,1601,2001],"labels":false,"title":null}},"y":{"field":"y","type":"quantitative","scale":{"domain":[0,0.3],"nice":false},"axis":{"orient":"right","values":[0,0.1,0.2,0.3],"labels":false,"title":null}}}}
],"resolve":{"axis":{"x":"independent","y":"independent"}}}
],"spacing":60,"bounds":"flush","resolve":{"scale":{"color":"independent"}}},
{"hconcat":[
{"width":223,"height":169,"title":"(e)","layer":[
 {"encoding":{"x":{"field":"x","type":"quantitative","scale":{"domain":[1,2001],"nice":false,"zero":false},"axis":{"values":[1,401,801,1201,1601,2001],"format":"d","title":"Number of hidden neurons","titleY":30,"labelPadding":14}},
  "y":{"field":"y","type":"quantitative","scale":{"domain":[0,20],"nice":false},"axis":{"values":[0,5,10,15,20],"format":"~r","title":"Time (sec)","titleX":-24,"labelPadding":10}}},
  "layer":[
  {"data":{"name":"eh"},"mark":"line","encoding":{"color":{"datum":"hardlim","scale":{"domain":["hardlim","sigmoid","sine"],"range":["#000000","#ff0000","#47b01f"]},"legend":{"title":null,"orient":"none","legendX":7,"legendY":3,"labelExpr":"'Training ' + datum.label"}}}},
  {"data":{"name":"eg"},"mark":"line","encoding":{"color":{"datum":"sigmoid"}}},
  {"data":{"name":"en"},"mark":"line","encoding":{"color":{"datum":"sine"}}}]},
 {"data":{"name":"eh"},"mark":{"type":"line","opacity":0},"encoding":{"x":{"field":"x","type":"quantitative","scale":{"domain":[1,2001],"nice":false,"zero":false},"axis":{"orient":"top","values":[1,401,801,1201,1601,2001],"labels":false,"title":null}},"y":{"field":"y","type":"quantitative","scale":{"domain":[0,20],"nice":false},"axis":{"orient":"right","values":[0,5,10,15,20],"labels":false,"title":null}}}}
],"resolve":{"axis":{"x":"independent","y":"independent"}}},
{"width":233,"height":171,"title":"(f)","layer":[
 {"encoding":{"x":{"field":"x","type":"quantitative","scale":{"domain":[1,2001],"nice":false,"zero":false},"axis":{"values":[1,401,801,1201,1601,2001],"format":"d","title":"Number of hidden neurons","titleY":28,"labelPadding":14}},
  "y":{"field":"y","type":"quantitative","scale":{"domain":[0,0.3],"nice":false},"axis":{"values":[0,0.1,0.2,0.3],"format":"~r","title":"Time (sec)","titleX":-30,"labelPadding":10}}},
  "layer":[
  {"data":{"name":"fh"},"mark":"line","encoding":{"color":{"datum":"hardlim","scale":{"domain":["hardlim","sigmoid","sine"],"range":["#000000","#ff0000","#47b01f"]},"legend":{"title":null,"orient":"none","legendX":7,"legendY":3,"labelExpr":"'Testing ' + datum.label"}}}},
  {"data":{"name":"fg"},"mark":"line","encoding":{"color":{"datum":"sigmoid"}}},
  {"data":{"name":"fn"},"mark":"line","encoding":{"color":{"datum":"sine"}}}]},
 {"data":{"name":"fh"},"mark":{"type":"line","opacity":0},"encoding":{"x":{"field":"x","type":"quantitative","scale":{"domain":[1,2001],"nice":false,"zero":false},"axis":{"orient":"top","values":[1,401,801,1201,1601,2001],"labels":false,"title":null}},"y":{"field":"y","type":"quantitative","scale":{"domain":[0,0.3],"nice":false},"axis":{"orient":"right","values":[0,0.1,0.2,0.3],"labels":false,"title":null}}}}
],"resolve":{"axis":{"x":"independent","y":"independent"}}},
{"width":222,"height":169,"title":"(g)","layer":[
 {"encoding":{"x":{"field":"x","type":"quantitative","scale":{"domain":[1,6001],"nice":false,"zero":false},"axis":{"values":[1,1001,2001,3001,4001,5001,6001],"format":"d","title":"Number of hidden neurons","titleY":30,"labelPadding":14}},
  "y":{"field":"y","type":"quantitative","scale":{"domain":[0,600],"nice":false},"axis":{"values":[0,200,400,600],"format":"~r","title":"Time (sec)","titleX":-31,"labelPadding":10}}},
  "layer":[
  {"data":{"name":"gh"},"mark":"line","encoding":{"color":{"datum":"hardlim","scale":{"domain":["hardlim","sigmoid","sine"],"range":["#000000","#ff0000","#47b01f"]},"legend":{"title":null,"orient":"none","legendX":9,"legendY":9,"labelExpr":"'Training ' + datum.label"}}}},
  {"data":{"name":"gg"},"mark":"line","encoding":{"color":{"datum":"sigmoid"}}},
  {"data":{"name":"gn"},"mark":"line","encoding":{"color":{"datum":"sine"}}}]},
 {"data":{"name":"gh"},"mark":{"type":"line","opacity":0},"encoding":{"x":{"field":"x","type":"quantitative","scale":{"domain":[1,6001],"nice":false,"zero":false},"axis":{"orient":"top","values":[1,1001,2001,3001,4001,5001,6001],"labels":false,"title":null}},"y":{"field":"y","type":"quantitative","scale":{"domain":[0,600],"nice":false},"axis":{"orient":"right","values":[0,200,400,600],"labels":false,"title":null}}}}
],"resolve":{"axis":{"x":"independent","y":"independent"}}},
{"width":232,"height":172,"title":"(h)","layer":[
 {"encoding":{"x":{"field":"x","type":"quantitative","scale":{"domain":[1,6001],"nice":false,"zero":false},"axis":{"values":[1,1001,2001,3001,4001,5001,6001],"format":"d","title":"Number of hidden neurons","titleY":27,"labelPadding":14}},
  "y":{"field":"y","type":"quantitative","scale":{"domain":[0,4],"nice":false},"axis":{"values":[0,1,2,3,4],"format":"~r","title":"Time (sec)","titleX":-20,"labelPadding":10}}},
  "layer":[
  {"data":{"name":"hh"},"mark":"line","encoding":{"color":{"datum":"hardlim","scale":{"domain":["hardlim","sigmoid","sine"],"range":["#000000","#ff0000","#47b01f"]},"legend":{"title":null,"orient":"none","legendX":5,"legendY":5,"labelExpr":"'Testing ' + datum.label"}}}},
  {"data":{"name":"hg"},"mark":"line","encoding":{"color":{"datum":"sigmoid"}}},
  {"data":{"name":"hn"},"mark":"line","encoding":{"color":{"datum":"sine"}}}]},
 {"data":{"name":"hh"},"mark":{"type":"line","opacity":0},"encoding":{"x":{"field":"x","type":"quantitative","scale":{"domain":[1,6001],"nice":false,"zero":false},"axis":{"orient":"top","values":[1,1001,2001,3001,4001,5001,6001],"labels":false,"title":null}},"y":{"field":"y","type":"quantitative","scale":{"domain":[0,4],"nice":false},"axis":{"orient":"right","values":[0,1,2,3,4],"labels":false,"title":null}}}}
],"resolve":{"axis":{"x":"independent","y":"independent"}}}
],"spacing":56,"bounds":"flush","resolve":{"scale":{"color":"independent"}}}
],
"spacing":5,
"resolve":{"scale":{"color":"independent"}},
"config":{
"font":"Liberation Sans",
"view":{"stroke":"#595959","strokeWidth":1},
"line":{"strokeWidth":1},
"axis":{"grid":false,"domain":false,"tickColor":"#595959","tickSize":-4,"labelFontSize":15,"labelColor":"#262626","titleFontSize":17,"titleFontWeight":"normal","titleColor":"#262626","labelOverlap":false,"labelBound":false,"labelFlush":false},
"legend":{"symbolType":"stroke","symbolSize":676,"symbolStrokeWidth":1,"labelFontSize":14.5,"labelColor":"#000000","strokeColor":"#404040","fillColor":"#ffffff","padding":4,"rowPadding":5,"labelOffset":3,"clipHeight":14.5,"labelLimit":0},
"title":{"anchor":"start","frame":"group","fontSize":17,"fontWeight":"normal","color":"#000000","offset":-2,"dx":-4}
}
}
